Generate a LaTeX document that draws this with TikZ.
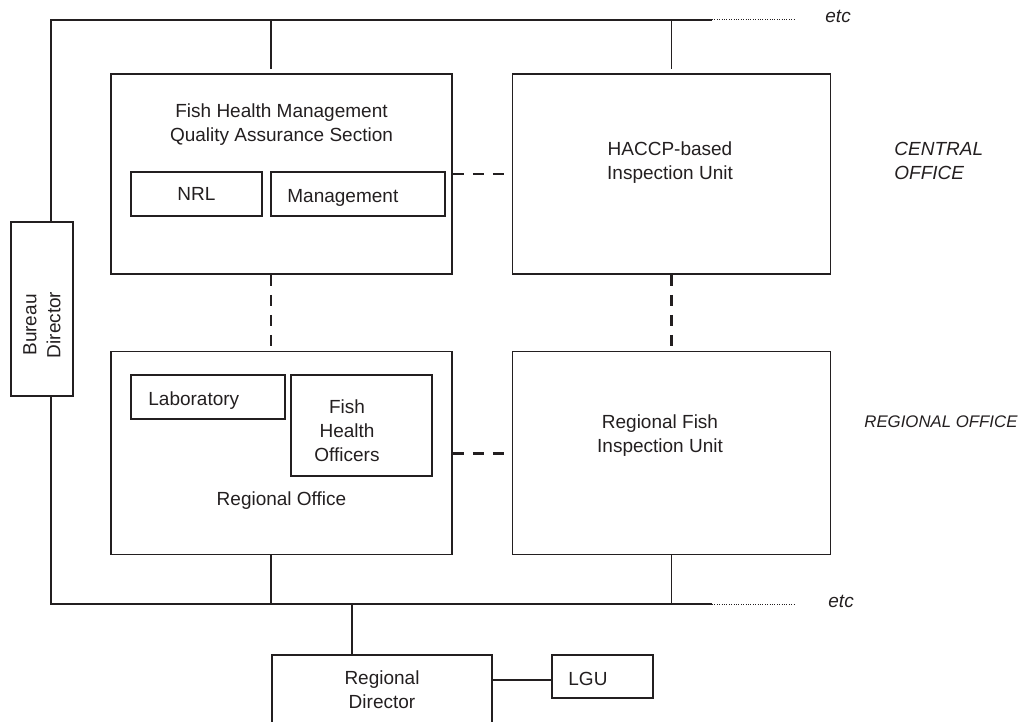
\documentclass[tikz,border=0pt]{standalone}
\usepackage{fontspec}
\setmainfont{Liberation Sans}
\usetikzlibrary{positioning, calc}
\definecolor{inkline}{HTML}{231F20}
\tikzset{
  unitbox/.style={rectangle, draw=inkline, line width=0.8pt,
                  minimum width=170.5pt, minimum height=100pt, inner sep=0pt},
  subbox/.style={rectangle, draw=inkline, line width=0.8pt, minimum height=22pt,
                 inner sep=0pt, align=center, text=inkline,
                 font=\fontsize{9.5}{12}\selectfont},
  boxtext/.style={inner sep=0pt, align=center, text=inkline,
                  font=\fontsize{9.5}{12}\selectfont},
  levellabel/.style={inner sep=0pt, align=left, text=inkline,
                     font=\fontsize{9.5}{12}\selectfont\itshape},
  bus/.style={draw=inkline, line width=0.75pt},
  etcline/.style={draw=inkline, line width=0.5pt, dash pattern=on 0.5pt off 0.7pt},
  peerlink/.style={draw=inkline, line width=1.4pt, dash pattern=on 5.5pt off 4.5pt},
}

\begin{document}
\begin{tikzpicture}[x=0.5pt, y=-0.5pt, node distance=29.5pt]
  \useasboundingbox (0,0) rectangle (1027,722);

  % central and regional units
  \node[unitbox] (fhm) at (281.5,174) {};
  \node[unitbox, minimum width=159pt, right=29.5pt of fhm] (haccp) {};
  \node[unitbox, minimum height=101.5pt, below=38pt of fhm] (rofc) {};
  \node[unitbox, minimum width=159pt, minimum height=101.5pt, below=38pt of haccp] (rfiu) {};
  \node[unitbox, minimum width=31pt, minimum height=87pt] (bd) at (42,309) {};

  \node[subbox, minimum width=65.5pt] (nrl) at (196.5,194) {NRL};
  \node[subbox, minimum width=87pt] (mgmt) at (358,194) {};
  \node[subbox, minimum width=77pt] (lab) at (208,397) {};
  \node[subbox, minimum width=70.5pt, minimum height=50.5pt] (fho) at (361.5,425.5) {};
  \node[subbox, minimum width=110pt, minimum height=35pt] (rd) at (382,690) {Regional\\Director};
  \node[subbox, minimum width=50.5pt, minimum height=21.5pt] (lgu) at (602.5,676.5) {};

  \node[boxtext] (fhmtitle) at (281.5,125) {Fish Health Management\\Quality Assurance Section};
  \node[boxtext] (haccptext) at (670,163) {HACCP-based\\Inspection Unit};
  \node[boxtext] (rfiutext) at (660,436) {Regional Fish\\Inspection Unit};
  \node[boxtext, anchor=base] (roftext) at (281.5,505) {Regional Office};
  \node[boxtext, anchor=base west] (mgmttext) at (287,202) {Management};
  \node[boxtext, anchor=base west] (labtext) at (148,405) {Laboratory};
  \node[boxtext] (fhotext) at (347,430.5) {Fish\\Health\\Officers};
  \node[boxtext, anchor=base west] (lgutext) at (568,685) {LGU};
  \node[boxtext, rotate=90] (bdtext) at (42,325) {Bureau\\Director};

  \node[levellabel, anchor=west] (central) at (894,161) {CENTRAL\\OFFICE};
  \node[levellabel, anchor=base west, font=\fontsize{8.4}{10}\selectfont\itshape]
       (regional) at (864,427) {REGIONAL OFFICE};
  \node[levellabel, anchor=base west] (etctop) at (825,23) {etc};
  \node[levellabel, anchor=base west] (etcbot) at (828,607) {etc};

  % bus lines
  \coordinate (topend) at (712,20);
  \coordinate (topdots) at (795,20);
  \coordinate (botend) at (712,604);
  \coordinate (botdots) at (795,604);
  \coordinate (bdtop) at ([xshift=4.5pt]bd.north);
  \coordinate (bdbot) at ([xshift=4.5pt]bd.south);
  \coordinate (fhmtop) at ([xshift=-5.25pt]fhm.north);
  \coordinate (fhmbot) at ([xshift=-5.25pt]fhm.south);
  \coordinate (roftop) at ([xshift=-5.25pt]rofc.north);
  \coordinate (rofbot) at ([xshift=-5.25pt]rofc.south);
  \coordinate (rdtop) at ([xshift=-15pt]rd.north);
  \coordinate (lguin) at ([yshift=-1.75pt]lgu.west);

  \draw[bus] (bdtop) |- (topend);
  \draw[etcline] (topend) -- (topdots);
  \draw[bus] (bdbot) |- (botend);
  \draw[etcline] (botend) -- (botdots);

  \draw[bus, shorten >=2pt] (fhmtop |- topend) -- (fhmtop);
  \draw[bus, shorten >=2pt] (haccp.north |- topend) -- (haccp.north);
  \draw[bus] (rofbot) -- (rofbot |- botend);
  \draw[bus] (rfiu.south) -- (rfiu.south |- botend);
  \draw[bus] (rdtop |- botend) -- (rdtop);
  \draw[bus] (rd.east |- lguin) -- (lguin);

  \draw[peerlink] (fhm.east) -- (haccp.west);
  \draw[peerlink] (rofc.east) -- (rfiu.west);
  \draw[peerlink] (fhmbot) -- (roftop);
  \draw[peerlink] (haccp.south) -- (rfiu.north);
\end{tikzpicture}
\end{document}
